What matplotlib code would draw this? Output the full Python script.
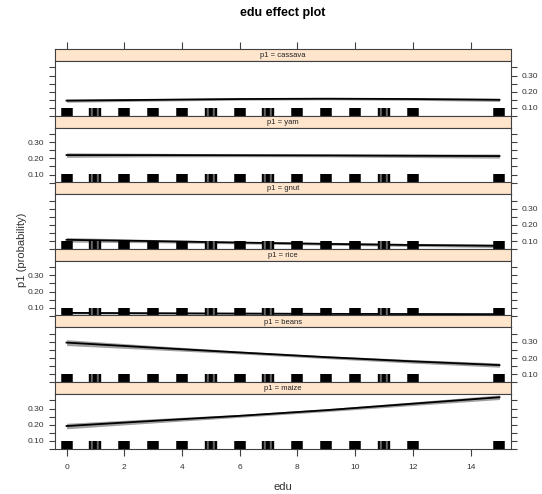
import matplotlib.pyplot as plt
import numpy as np

plt.rcParams['font.family'] = ['Liberation Sans', 'DejaVu Sans']

crops = ['cassava', 'yam', 'gnut', 'rice', 'beans', 'maize']
edu = [0, 3, 6, 9, 12, 15]

fit = {
    'cassava': [0.145, 0.150, 0.155, 0.157, 0.155, 0.150],
    'yam':     [0.220, 0.220, 0.219, 0.218, 0.216, 0.214],
    'gnut':    [0.108, 0.100, 0.091, 0.083, 0.076, 0.071],
    'rice':    [0.068, 0.066, 0.064, 0.062, 0.061, 0.060],
    'beans':   [0.296, 0.265, 0.235, 0.206, 0.180, 0.157],
    'maize':   [0.192, 0.224, 0.255, 0.290, 0.330, 0.370],
}
halfwidth = {
    'cassava': [0.010, 0.008, 0.007, 0.007, 0.008, 0.010],
    'yam':     [0.014, 0.011, 0.009, 0.009, 0.011, 0.013],
    'gnut':    [0.014, 0.010, 0.008, 0.008, 0.009, 0.011],
    'rice':    [0.007, 0.006, 0.005, 0.005, 0.006, 0.007],
    'beans':   [0.018, 0.013, 0.009, 0.009, 0.011, 0.013],
    'maize':   [0.017, 0.013, 0.009, 0.009, 0.011, 0.014],
}

rug_solid = [0, 2, 3, 4, 6, 8, 9, 10, 12, 15]
rug_streak = [1, 5, 7, 11]
streak_offsets = [-0.18, -0.11, -0.04, 0.03, 0.10, 0.17]

W, H = 542, 494
fig = plt.figure(figsize=(W / 100, H / 100), dpi=100)

left, right = 55, 511
top0, strip_h, panel_h, step = 49, 12, 55, 66.6
edge = '#404040'

def frac(x0, y0, x1, y1):
    return [x0 / W, 1 - y1 / H, (x1 - x0) / W, (y1 - y0) / H]

for i, crop in enumerate(crops):
    st = top0 + step * i
    sax = fig.add_axes(frac(left, st, right, st + strip_h))
    sax.set_facecolor('#ffe5cc')
    sax.set_xlim(-0.4, 15.4)
    sax.set_yticks([])
    for s in sax.spines.values():
        s.set_color(edge)
        s.set_linewidth(0.8)
    if i == 0:
        sax.xaxis.tick_top()
        sax.set_xticks(range(0, 15, 2))
        sax.tick_params(axis='x', direction='out', length=5, color=edge, labeltop=False)
    else:
        sax.set_xticks([])
    sax.text(0.5, 0.45, 'p1 = ' + crop, transform=sax.transAxes, ha='center',
             va='center', fontsize=5.5, color='#222222')

    ax = fig.add_axes(frac(left, st + strip_h, right, st + strip_h + panel_h))
    ax.set_xlim(-0.4, 15.4)
    ax.set_ylim(0.05, 0.39)
    for s in ax.spines.values():
        s.set_color(edge)
        s.set_linewidth(0.8)

    y = np.array(fit[crop])
    hw = np.array(halfwidth[crop])
    ax.fill_between(edu, y - hw, y + hw, color='#a0a0a0', lw=0)
    ax.plot(edu, y, color='black', lw=1.3)

    xt = ax.get_xaxis_transform()
    ax.vlines(rug_solid, 0, 0.15, transform=xt, color='black', lw=8.3)
    for r in rug_streak:
        for k, off in enumerate(streak_offsets):
            ax.vlines(r + off, 0, 0.15, transform=xt,
                      color='black' if k % 3 != 1 else '#666666', lw=1.7)

    ax.set_yticks([0.05, 0.10, 0.15, 0.20, 0.25, 0.30, 0.35])
    ax.set_yticklabels(['', '0.10', '', '0.20', '', '0.30', ''])
    label_right = (i % 2 == 0)
    ax.tick_params(axis='y', direction='out', length=4, color=edge, labelsize=6,
                   labelcolor='#333333', left=True, right=True,
                   labelleft=not label_right, labelright=label_right)

    if i == len(crops) - 1:
        ax.set_xticks(range(0, 15, 2))
        ax.tick_params(axis='x', direction='out', length=5, color=edge, labelsize=6,
                       labelcolor='#333333', pad=6)
        ax.set_xlabel('edu', fontsize=8, color='#333333', labelpad=8)
    else:
        ax.set_xticks([])

fig.text(283 / W, 1 - 13 / H, 'edu effect plot', ha='center', va='center',
         fontsize=9, fontweight='bold')
fig.text(22 / W, 1 - 250 / H, 'p1 (probability)', ha='center', va='center',
         rotation=90, fontsize=8, color='#333333')

fig.savefig('out.png', dpi=100)
